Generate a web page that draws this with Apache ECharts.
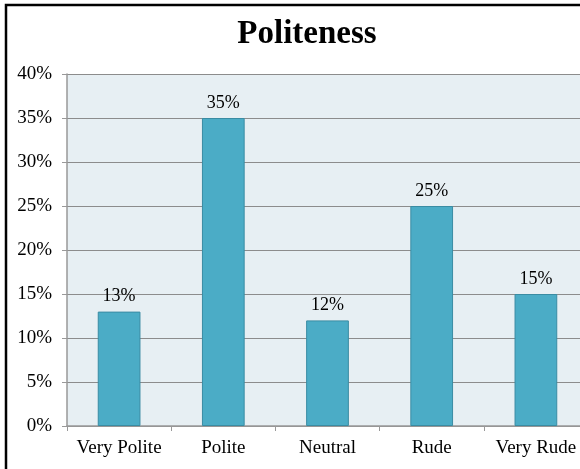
<!DOCTYPE html>
<html>
<head>
<meta charset="utf-8">
<script src="https://cdn.jsdelivr.net/npm/echarts@6/dist/echarts.min.js"></script>
<style>
  html, body { margin: 0; padding: 0; background: #fff; overflow: hidden; }
  #chart { width: 580px; height: 469px; }
</style>
</head>
<body>
<div id="chart"></div>
<script>
// data
const categories = ['Very Polite', 'Polite', 'Neutral', 'Rude', 'Very Rude']
const percents = [13, 35, 12, 25, 15]

const serif = '"Liberation Serif", "DejaVu Serif", serif'

const chart = echarts.init(document.getElementById('chart'))

chart.setOption({
  animation: false,
  title: {
    text: 'Politeness',
    left: 302,
    top: 13,
    textAlign: 'center',
    textStyle: { fontFamily: serif, fontSize: 33, fontWeight: 'bold', color: '#000' },
  },
  graphic: [
    {
      type: 'rect',
      shape: { x: 6, y: 5, width: 700, height: 600 },
      style: { fill: 'none', stroke: '#000', lineWidth: 2.5 },
      z: 100,
    },
  ],
  grid: {
    left: 67,
    top: 74,
    right: -8,
    bottom: 43,
    outerBoundsMode: 'none',
    show: true,
    backgroundColor: '#e7eff3',
    borderWidth: 0,
  },
  xAxis: {
    type: 'category',
    data: categories,
    axisLine: { lineStyle: { color: '#999', width: 1.5 } },
    axisTick: { show: true, length: 5, lineStyle: { color: '#999' } },
    axisLabel: { fontFamily: serif, fontSize: 19, color: '#000', margin: 13, interval: 0, hideOverlap: false },
  },
  yAxis: {
    type: 'value',
    min: 0,
    max: 40,
    interval: 5,
    axisLine: { show: true, lineStyle: { color: '#999', width: 1.5 } },
    axisTick: { show: true, length: 5, lineStyle: { color: '#999' } },
    axisLabel: {
      fontFamily: serif,
      fontSize: 19,
      color: '#000',
      margin: 15,
      formatter: (v) => v + '%',
    },
    splitLine: { lineStyle: { color: '#8c8c8c', width: 1.2 } },
  },
  series: [
    {
      type: 'bar',
      data: percents,
      barWidth: '41%',
      itemStyle: { color: '#4bacc6', borderColor: '#3a8ca3', borderWidth: 1 },
      label: {
        show: true,
        position: 'top',
        distance: 6,
        fontFamily: serif,
        fontSize: 18,
        color: '#000',
        formatter: (p) => p.value + '%',
      },
    },
  ],
})
</script>
</body>
</html>
